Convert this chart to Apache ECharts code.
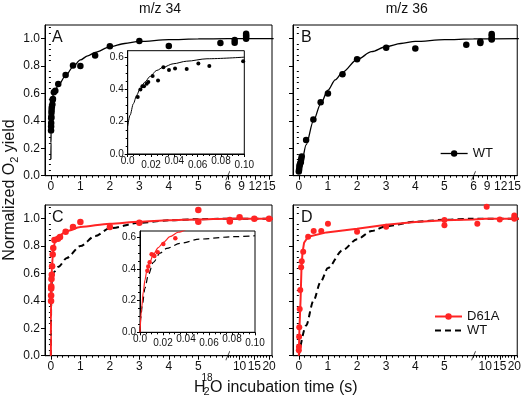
<!DOCTYPE html>
<html><head><meta charset="utf-8">
<script src="https://cdn.jsdelivr.net/npm/echarts@6/dist/echarts.min.js"></script>
<style>html,body{margin:0;padding:0;background:#fff}#c{width:524px;height:400px}</style>
</head><body><div id="c"></div>
<script>
// ---------- data (time in s, normalized O2 yield) ----------
const topTicks = [0, 1, 2, 3, 4, 5, 6, 9, 12, 15];
const bottomTicks = [0, 1, 2, 3, 4, 5, 10, 15, 20];
const yTicks = [0, 0.2, 0.4, 0.6, 0.8, 1.0];
const insetYTicks = [0, 0.2, 0.4, 0.6];

// Panel A: WT, m/z 34
const wt34Points = [[0.005,0.33],[0.008,0.36],[0.01,0.385],[0.012,0.42],[0.015,0.43],[0.02,0.46],[0.025,0.48],[0.03,0.5],[0.05,0.52],[0.06,0.555],[0.07,0.56],[0.1,0.61],[0.15,0.62],[0.25,0.67],[0.5,0.735],[0.75,0.805],[1,0.8],[1.5,0.878],[2,0.944],[3,0.983],[4,0.946],[5.75,0.968],[7.5,0.97],[7.5,0.99],[10,1.0],[10,1.012],[10,1.024],[10,1.037]];
const wt34Fit = [[0,0.12],[0.002,0.24],[0.005,0.31],[0.01,0.4],[0.02,0.48],[0.03,0.535],[0.05,0.575],[0.1,0.6],[0.25,0.66],[0.5,0.73],[0.75,0.795],[1,0.845],[1.25,0.875],[1.5,0.9],[2,0.94],[2.5,0.965],[3,0.98],[4,0.993],[5,0.998],[6,1.0],[16,1.0]];
const wt34InsetPoints = [[0.0086,0.353],[0.0109,0.399],[0.0126,0.42],[0.014,0.42],[0.0163,0.436],[0.0177,0.446],[0.0214,0.483],[0.026,0.456],[0.0306,0.538],[0.0354,0.52],[0.0406,0.53],[0.0506,0.526],[0.0606,0.561],[0.07,0.545],[0.099,0.575]];
const wt34InsetFit = [[0,0.173],[0.002,0.24],[0.0049,0.312],[0.0077,0.364],[0.0106,0.405],[0.0149,0.446],[0.019,0.48],[0.025,0.518],[0.0306,0.538],[0.039,0.559],[0.0506,0.575],[0.068,0.59],[0.1,0.6]];

// Panel B: WT, m/z 36
const wt36Points = [[0,0.03],[0.01,0.046],[0.02,0.066],[0.03,0.078],[0.05,0.09],[0.07,0.1],[0.08,0.12],[0.1,0.14],[0.25,0.26],[0.5,0.41],[0.75,0.537],[1,0.6],[1.5,0.74],[2,0.85],[3,0.934],[4,0.929],[5.75,0.956],[7.5,0.968],[7.5,0.98],[10,0.995],[10,1.0],[10,1.02],[10,1.034]];
const wt36Fit = [[0,0.02],[0.1,0.1],[0.25,0.225],[0.5,0.4],[0.75,0.525],[1,0.625],[1.25,0.7],[1.5,0.755],[2,0.848],[2.5,0.905],[3,0.943],[3.5,0.965],[4,0.98],[5,0.993],[6,0.998],[16,1.0]];

// Panel C: D61A m/z 34 (+ WT fit)
const d61a34Points = [[0.005,0.4],[0.008,0.44],[0.01,0.49],[0.012,0.505],[0.02,0.56],[0.03,0.59],[0.04,0.653],[0.06,0.738],[0.08,0.787],[0.12,0.844],[0.24,0.853],[0.31,0.866],[0.5,0.905],[0.75,0.94],[1,0.976],[2,0.94],[3,0.97],[5,1.064],[5,0.978],[6.7,0.98],[6.7,0.99],[10,1.01],[15,1.0],[20,1.0]];
const d61a34Fit = [[0,0],[0.0014,0.152],[0.0029,0.257],[0.0058,0.383],[0.0116,0.493],[0.0203,0.568],[0.0333,0.632],[0.06,0.72],[0.1,0.8],[0.15,0.84],[0.26,0.873],[0.54,0.91],[1,0.94],[2,0.963],[3,0.978],[4,0.988],[5,0.995],[6,1.0],[22,1.0]];
const wt34FitC = [[0,0],[0.002,0.173],[0.0072,0.362],[0.0174,0.5],[0.0348,0.562],[0.1,0.61],[0.26,0.65],[0.54,0.714],[1,0.8],[1.5,0.873],[2,0.93],[3,0.97],[4,0.988],[5,0.996],[6,1.0],[22,1.0]];
const d61a34InsetPoints = [[0.0064,0.389],[0.0072,0.415],[0.0084,0.442],[0.0101,0.493],[0.0116,0.488],[0.0125,0.482],[0.0154,0.505],[0.0203,0.558],[0.0307,0.594]];
const d61a34InsetFit = [[0,0],[0.0014,0.152],[0.0029,0.257],[0.0043,0.33],[0.0058,0.383],[0.0087,0.446],[0.0116,0.493],[0.0159,0.535],[0.0203,0.568],[0.026,0.604],[0.0333,0.632],[0.04,0.65]];
const wt34InsetFitC = [[0,0],[0.0006,0.088],[0.002,0.173],[0.0043,0.278],[0.0072,0.362],[0.0116,0.442],[0.0174,0.5],[0.0232,0.53],[0.0348,0.562],[0.052,0.589],[0.081,0.604],[0.1,0.61]];

// Panel D: D61A m/z 36 (+ WT fit)
const d61a36Points = [[0,0.04],[0.005,0.066],[0.01,0.139],[0.015,0.208],[0.03,0.34],[0.05,0.48],[0.08,0.645],[0.1,0.69],[0.15,0.758],[0.32,0.868],[0.51,0.91],[0.77,0.91],[1,0.963],[2,0.905],[3,0.941],[5,0.99],[5,0.953],[7.3,0.963],[10.5,1.088],[15,0.995],[20,1.024],[20,1.007],[20,1.0]];
const d61a36Fit = [[0,0],[0.02,0.19],[0.06,0.41],[0.09,0.63],[0.125,0.75],[0.18,0.824],[0.32,0.868],[0.95,0.9],[2,0.927],[3,0.956],[4,0.976],[5,0.988],[6,0.995],[10,1.0],[22,1.0]];
const wt36FitD = [[0,0],[0.25,0.22],[0.5,0.4],[0.75,0.54],[1,0.64],[1.5,0.77],[2,0.85],[2.5,0.91],[3,0.945],[4,0.978],[5,0.992],[6,1.0],[22,1.0]];

// ---------- axis break mappings ----------
const topMap = t => t <= 6 ? t : 6 + (t - 6) * 1.4 / 9;
const botMap = t => t <= 6 ? t : 6 + (t - 6) * 1.4 / 14;
const ident = t => t;

const FONT = '"Liberation Sans", Arial, sans-serif';
const RED = '#ff2424';
const INK = '#111';

const grid = [
  {left:45, top:25, width:227, height:150.7},
  {left:293, top:25, width:228, height:150.7},
  {left:45, top:205, width:227, height:150.7},
  {left:293, top:205, width:228, height:150.7},
  {left:127.7, top:50.7, width:116.6, height:103.3},
  {left:140, top:231, width:115, height:101.3}
].map(g => Object.assign({show:true, borderColor:'#000', borderWidth:1, backgroundColor:'#fff'}, g));

const xAxis = [], yAxis = [];
const lineSt = {color:'#000', width:1};
function range(a, b, s) { const r = []; for (let v = a; v <= b + 1e-9; v += s) r.push(+v.toFixed(4)); return r; }

function mainX(gi, ticks, map, maxT) {
  const major = ticks.map(map);
  const minor = range(0, 6, 0.2).concat(range(7, maxT, 1)).filter(t => ticks.indexOf(t) < 0).map(map).filter(v => v <= 7.5);
  xAxis.push({gridIndex:gi, type:'value', min:-0.2, max:7.5, position:'bottom',
    axisLine:{onZero:false, lineStyle:lineSt}, splitLine:{show:false},
    axisTick:{customValues:major, length:4, lineStyle:lineSt},
    axisLabel:{customValues:major, fontSize:12, color:INK, margin:5, fontFamily:FONT,
      formatter: v => { for (let i = 0; i < ticks.length; i++) if (Math.abs(map(ticks[i]) - v) < 1e-6) return String(ticks[i]); return ''; }}});
  const idx = xAxis.length - 1;
  xAxis.push({gridIndex:gi, type:'value', min:-0.2, max:7.5, position:'bottom',
    axisLine:{show:false}, splitLine:{show:false},
    axisTick:{customValues:minor, length:2, lineStyle:lineSt}, axisLabel:{show:false}});
  return idx;
}
function mainY(gi, showLabels) {
  yAxis.push({gridIndex:gi, type:'value', min:0, max:1.1, position:'left',
    axisLine:{onZero:false, lineStyle:lineSt}, splitLine:{show:false},
    axisTick:{customValues:yTicks, length:4, lineStyle:lineSt},
    axisLabel:{show:showLabels, customValues:yTicks, fontSize:12, color:INK, margin:5, fontFamily:FONT, formatter: v => v.toFixed(1)}});
  const idx = yAxis.length - 1;
  yAxis.push({gridIndex:gi, type:'value', min:0, max:1.1, position:'left',
    axisLine:{show:false}, splitLine:{show:false},
    axisTick:{customValues:range(0, 1.08, 0.04).filter(v => Math.abs(v*5 - Math.round(v*5)) > 1e-6), length:2, lineStyle:lineSt},
    axisLabel:{show:false}});
  return idx;
}
function insetX(gi) {
  xAxis.push({gridIndex:gi, type:'value', min:0, max:0.1, interval:0.02, position:'bottom',
    axisLine:{onZero:false, lineStyle:lineSt}, splitLine:{show:false},
    axisTick:{length:3, lineStyle:lineSt},
    minorTick:{show:true, splitNumber:4, length:2, lineStyle:lineSt},
    axisLabel:{fontSize:10, color:INK, margin:4, fontFamily:FONT,
      formatter: v => { const i = Math.round(v / 0.02); const s = i === 0 ? '0.0' : v.toFixed(2); return i % 2 ? '{lo|' + s + '}' : '{hi|' + s + '}'; },
      rich:{hi:{fontSize:10, color:INK, fontFamily:FONT, lineHeight:10, padding:[0,0,4,0]}, lo:{fontSize:10, color:INK, fontFamily:FONT, lineHeight:10, padding:[4,0,0,0]}}}});
  return xAxis.length - 1;
}
function insetY(gi) {
  yAxis.push({gridIndex:gi, type:'value', min:0, max:0.64, position:'left',
    axisLine:{onZero:false, lineStyle:lineSt}, splitLine:{show:false},
    axisTick:{customValues:insetYTicks, length:3, lineStyle:lineSt},
    axisLabel:{customValues:insetYTicks, fontSize:10, color:INK, margin:4, fontFamily:FONT, formatter: v => v.toFixed(1)}});
  const idx = yAxis.length - 1;
  yAxis.push({gridIndex:gi, type:'value', min:0, max:0.64, position:'left',
    axisLine:{show:false}, splitLine:{show:false},
    axisTick:{customValues:range(0.05, 0.6, 0.05).filter(v => Math.abs(v*5 - Math.round(v*5)) > 1e-6), length:2, lineStyle:lineSt},
    axisLabel:{show:false}});
  return idx;
}

const xA = mainX(0, topTicks, topMap, 16), yA = mainY(0, true);
const xB = mainX(1, topTicks, topMap, 16), yB = mainY(1, false);
const xC = mainX(2, bottomTicks, botMap, 22), yC = mainY(2, true);
const xD = mainX(3, bottomTicks, botMap, 22), yD = mainY(3, false);
const xAi = insetX(4), yAi = insetY(4);
const xCi = insetX(5), yCi = insetY(5);

const series = [];
function fit(name, data, map, xi, yi, color, width, dashed, smooth) {
  series.push({type:'line', name, xAxisIndex:xi, yAxisIndex:yi, data:data.map(p => [map(p[0]), p[1]]),
    symbol:'none', smooth: smooth ? 0.3 : false, smoothMonotone:'x', silent:true, z:2,
    lineStyle:{color, width, type: dashed ? [6,4] : 'solid'}, itemStyle:{color}});
}
function pts(name, data, map, xi, yi, color, size) {
  series.push({type:'line', name, xAxisIndex:xi, yAxisIndex:yi, data:data.map(p => [map(p[0]), p[1]]),
    symbol:'circle', symbolSize:size, showAllSymbol:true, silent:true, z:3,
    lineStyle:{width:0, color}, itemStyle:{color}});
}
function brk(xi, yi) {
  series.push({type:'scatter', name:'brk', xAxisIndex:xi, yAxisIndex:yi, data:[[6, 0]], silent:true, z:5,
    symbol:'path://M0,12L5,0', symbolSize:[4,9], itemStyle:{color:'transparent', borderColor:'#000', borderWidth:1}});
}

// A
fit('WT fit', wt34Fit, topMap, xA, yA, '#000', 1.3, false, true);
pts('WT', wt34Points, topMap, xA, yA, '#000', 6.5);
brk(xA, yA);
// B
fit('WT fit', wt36Fit, topMap, xB, yB, '#000', 1.3, false, true);
pts('WT', wt36Points, topMap, xB, yB, '#000', 6.5);
brk(xB, yB);
// C
fit('WT dash', wt34FitC, botMap, xC, yC, '#000', 2, true, true);
fit('D61A fit', d61a34Fit, botMap, xC, yC, RED, 2, false, true);
pts('D61A', d61a34Points, botMap, xC, yC, RED, 6.5);
brk(xC, yC);
// D
fit('WT ', wt36FitD, botMap, xD, yD, '#000', 2, true, true);
fit('D61A fit', d61a36Fit, botMap, xD, yD, RED, 2, false, false);
pts('D61A', d61a36Points, botMap, xD, yD, RED, 6);
brk(xD, yD);
// insets
fit('WT fit', wt34InsetFit, ident, xAi, yAi, '#000', 1, false, true);
pts('WT', wt34InsetPoints, ident, xAi, yAi, '#000', 4);
fit('WT dash', wt34InsetFitC, ident, xCi, yCi, '#000', 1.2, true, true);
fit('D61A fit', d61a34InsetFit, ident, xCi, yCi, RED, 1.2, false, true);
pts('D61A', d61a34InsetPoints, ident, xCi, yCi, RED, 4.5);

const chart = echarts.init(document.getElementById('c'), null, {renderer:'canvas'});
chart.setOption({
  animation:false,
  backgroundColor:'#fff',
  textStyle:{fontFamily:FONT},
  grid, xAxis, yAxis, series,
  legend:[
    {left:435, top:142, itemWidth:27, itemHeight:8, selectedMode:false,
      textStyle:{fontSize:13, color:INK, fontFamily:FONT},
      data:[{name:'WT', lineStyle:{width:1.3, color:'#000'}}]},
    {left:429, top:305, orient:'vertical', itemWidth:27, itemHeight:8, itemGap:1, selectedMode:false,
      textStyle:{fontSize:13, color:INK, fontFamily:FONT},
      data:[{name:'D61A', lineStyle:{width:2, color:RED}},
            {name:'WT ', itemStyle:{color:'rgba(0,0,0,0)', borderWidth:0, opacity:0}}]}
  ],
  graphic:[
    {type:'text', style:{text:'m/z 34', x:160, y:9, font:'14px ' + FONT, fill:INK, align:'center', verticalAlign:'middle'}},
    {type:'text', style:{text:'m/z 36', x:406.7, y:9, font:'14px ' + FONT, fill:INK, align:'center', verticalAlign:'middle'}},
    {type:'text', style:{text:'A', x:52, y:38, font:'16px ' + FONT, fill:INK, verticalAlign:'middle'}},
    {type:'text', style:{text:'B', x:301, y:38, font:'16px ' + FONT, fill:INK, verticalAlign:'middle'}},
    {type:'text', style:{text:'C', x:52, y:217.5, font:'16px ' + FONT, fill:INK, verticalAlign:'middle'}},
    {type:'text', style:{text:'D', x:301, y:218, font:'16px ' + FONT, fill:INK, verticalAlign:'middle'}},
    {type:'text', x:10, y:190, rotation:Math.PI/2,
      style:{text:'{n|Normalized O}{s|2}{n| yield}', align:'center', verticalAlign:'middle', fill:INK,
        rich:{n:{fontSize:16, fontFamily:FONT, lineHeight:20, fill:INK}, s:{fontSize:11, fontFamily:FONT, lineHeight:11, verticalAlign:'bottom', fill:INK}}}},
    {type:'text', style:{text:'H', x:194, y:387.5, font:'16px ' + FONT, fill:INK, verticalAlign:'middle'}},
    {type:'text', style:{text:'2', x:203.5, y:392, font:'11px ' + FONT, fill:INK, verticalAlign:'middle'}},
    {type:'text', style:{text:'18', x:201.5, y:378.5, font:'10px ' + FONT, fill:INK, verticalAlign:'middle'}},
    {type:'text', style:{text:'O incubation time (s)', x:210, y:387.5, font:'16px ' + FONT, fill:INK, verticalAlign:'middle'}}
  ]
});
</script></body></html>
